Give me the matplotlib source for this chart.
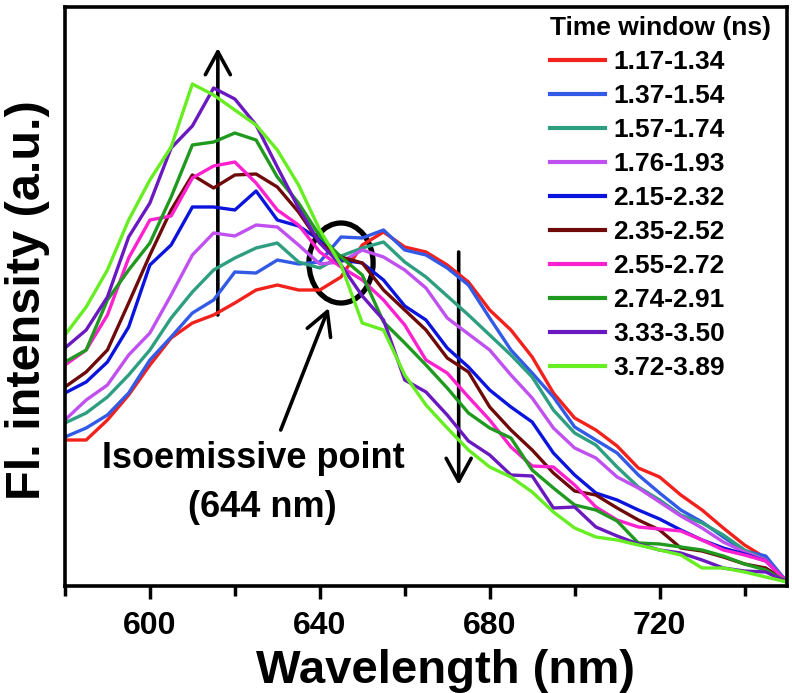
"""Time-resolved emission spectra with an isoemissive point."""

import numpy as np
import matplotlib
matplotlib.use("Agg")
import matplotlib.pyplot as plt
from matplotlib.patches import Ellipse, FancyArrowPatch
from matplotlib.ticker import MultipleLocator

plt.rcParams["font.family"] = ["Liberation Sans", "DejaVu Sans"]
plt.rcParams["font.weight"] = "bold"

# ============================================================
# Data (arbitrary units)
# ============================================================
wavelength = np.arange(580, 751, 5)

time_windows = ["1.17-1.34", "1.37-1.54", "1.57-1.74", "1.76-1.93", "2.15-2.32",
                "2.35-2.52", "2.55-2.72", "2.74-2.91", "3.33-3.50", "3.72-3.89"]
colors = ["#f2211c", "#325ae6", "#2e9e80", "#c050f0", "#0a14dc",
          "#6e0a0a", "#ff20d0", "#1f9a1f", "#6a18c0", "#66ee22"]

s_117 = [146, 146, 166, 191, 221, 248, 263, 271, 283, 296, 301, 296, 296, 309, 341, 354, 339, 334,
         321, 304, 276, 256, 229, 193, 168, 156, 140, 118, 109, 91, 76, 58, 41, 28, 4]
s_137 = [149, 158, 171, 193, 226, 249, 273, 286, 314, 313, 326, 322, 324, 349, 348, 356, 336, 331,
         318, 301, 268, 236, 213, 189, 159, 146, 133, 111, 93, 76, 64, 49, 35, 30, 4]
s_157 = [163, 173, 189, 211, 236, 268, 294, 316, 328, 338, 343, 324, 318, 330, 338, 344, 324, 309,
         290, 271, 251, 231, 209, 176, 153, 141, 119, 99, 86, 71, 63, 51, 36, 26, 4]
s_176 = [166, 186, 201, 231, 253, 291, 331, 353, 350, 361, 359, 341, 322, 324, 336, 329, 316, 298,
         268, 252, 236, 211, 188, 158, 138, 128, 109, 98, 84, 70, 58, 44, 34, 26, 4]
s_215 = [193, 204, 224, 259, 321, 341, 379, 379, 376, 395, 366, 360, 346, 326, 323, 306, 280, 266,
         238, 219, 196, 179, 164, 133, 111, 93, 86, 76, 67, 56, 46, 38, 32, 25, 4]
s_235 = [199, 214, 236, 283, 331, 376, 411, 398, 411, 412, 399, 374, 343, 329, 323, 296, 276, 256,
         228, 214, 179, 156, 136, 113, 95, 91, 78, 66, 56, 38, 35, 29, 22, 18, 4]
s_255 = [221, 236, 271, 328, 366, 370, 408, 420, 424, 403, 376, 361, 334, 319, 306, 286, 261, 226,
         213, 189, 166, 139, 120, 119, 101, 79, 66, 59, 57, 55, 46, 36, 31, 25, 4]
s_274 = [224, 236, 286, 316, 343, 389, 441, 444, 453, 446, 409, 383, 350, 329, 311, 264, 243, 221,
         198, 173, 158, 148, 116, 98, 81, 76, 65, 43, 42, 39, 36, 30, 22, 16, 4]
s_333 = [238, 256, 289, 349, 383, 438, 460, 498, 487, 461, 419, 378, 343, 321, 290, 266, 206, 194,
         171, 145, 131, 111, 110, 78, 79, 59, 50, 42, 36, 33, 26, 18, 15, 14, 4]
s_372 = [251, 279, 316, 366, 406, 439, 502, 491, 476, 461, 436, 401, 356, 321, 263, 256, 211, 181,
         158, 136, 119, 109, 94, 74, 58, 49, 46, 41, 36, 31, 18, 18, 14, 9, 4]

spectra = [s_117, s_137, s_157, s_176, s_215, s_235, s_255, s_274, s_333, s_372]

# ============================================================
# Figure
# ============================================================
fig = plt.figure(figsize=(7.92, 6.93), dpi=100)
ax = fig.add_axes([0.082, 0.1544, 0.9117, 0.8355])

for label, color, spec in zip(time_windows, colors, spectra):
    ax.plot(wavelength, spec, color=color, lw=2.4, label=label)

ax.set_xlim(580, 750)
ax.set_ylim(0, 579)
ax.set_yticks([])
ax.xaxis.set_major_locator(MultipleLocator(40))
ax.xaxis.set_minor_locator(MultipleLocator(20))
ax.tick_params(axis="x", which="major", direction="out", length=9, width=2.5,
               labelsize=23, pad=9)
ax.tick_params(axis="x", which="minor", direction="out", length=7, width=2.5)
for lbl in ax.get_xticklabels():
    lbl.set_fontweight("bold")
for sp in ax.spines.values():
    sp.set_linewidth(2.6)

fig.text(0.5625, 0.0144, "Wavelength (nm)", fontsize=34, fontweight="bold",
         ha="center", va="baseline")
ax.text(-0.052, 0.494, "Fl. intensity (a.u.)", transform=ax.transAxes, rotation=90,
        fontsize=35, fontweight="bold", ha="center", va="center")

# -------------------- Annotations --------------------
arrow_kw = dict(arrowstyle="->,head_length=0.55,head_width=0.3", mutation_scale=30,
                lw=2.6, color="black", shrinkA=0, shrinkB=0)
ax.add_patch(FancyArrowPatch((616, 271), (616, 538), **arrow_kw))
ax.add_patch(FancyArrowPatch((672.7, 334), (672.7, 101), **arrow_kw))
ax.add_patch(FancyArrowPatch((630.8, 156), (642.1, 278), **arrow_kw))
ax.add_patch(Ellipse((645.0, 323), 15.1, 80, fill=False, lw=3.8, ec="black"))

ax.text(624.4, 118, "Isoemissive point", fontsize=26, fontweight="bold",
        ha="center", va="baseline")
ax.text(626.5, 69, "(644 nm)", fontsize=26, fontweight="bold",
        ha="center", va="baseline")

leg = ax.legend(loc="upper left", bbox_to_anchor=(0.646, 1.016), frameon=False,
                title="Time window (ns)", fontsize=19, title_fontsize=19,
                handlelength=2.1, handletextpad=0.3, labelspacing=0.38,
                borderpad=0.2, alignment="left")
leg.get_title().set_fontweight("bold")
for txt in leg.get_texts():
    txt.set_fontweight("bold")
for line in leg.get_lines():
    line.set_linewidth(3)

fig.savefig("out.png", dpi=100)
